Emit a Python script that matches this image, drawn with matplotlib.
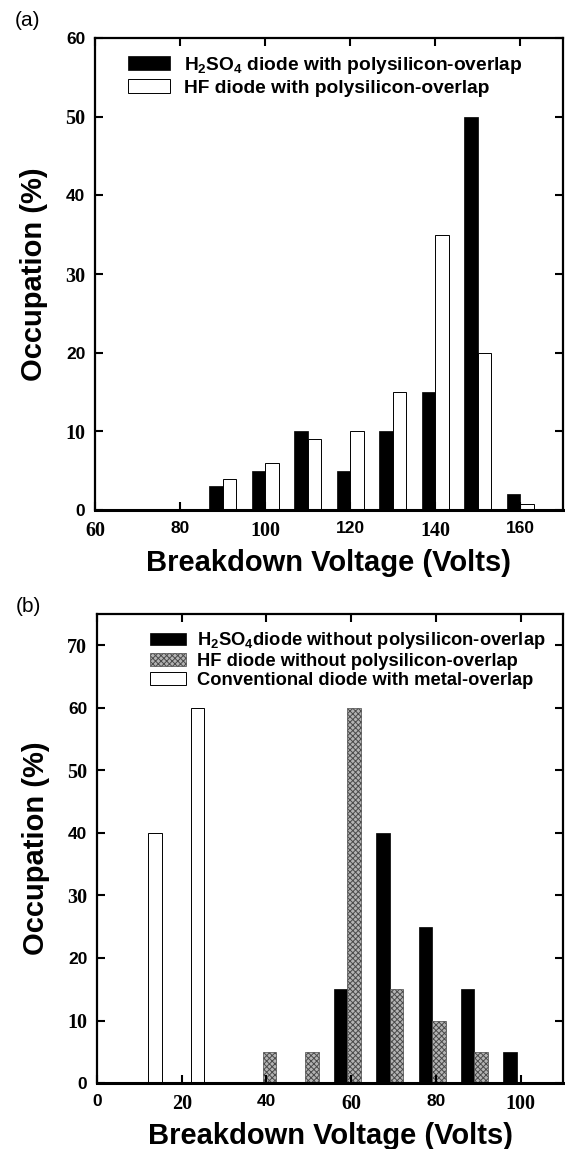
import numpy as np
import matplotlib
matplotlib.use("Agg")
import matplotlib.pyplot as plt

plt.rcParams['font.family'] = ['Liberation Sans', 'DejaVu Sans']
plt.rcParams['mathtext.fontset'] = 'custom'
plt.rcParams['mathtext.rm'] = 'Liberation Sans:bold'
plt.rcParams['mathtext.it'] = 'Liberation Sans:bold'
plt.rcParams['mathtext.bf'] = 'Liberation Sans:bold'
plt.rcParams['hatch.linewidth'] = 0.7

# panel (a): with polysilicon-overlap
volts_a = [90, 100, 110, 120, 130, 140, 150, 160]
h2so4_a = [3, 5, 10, 5, 10, 15, 50, 2]
hf_a = [4, 6, 9, 10, 15, 35, 20, 0.8]

# panel (b): without overlap / conventional
volts_b = [10, 20, 30, 40, 50, 60, 70, 80, 90, 100]
h2so4_b = [0, 0, 0, 0, 0, 15, 40, 25, 15, 5]
hf_b = [0, 0, 0, 5, 5, 60, 15, 10, 5, 0]
conv_b = [40, 60, 0, 0, 0, 0, 0, 0, 0, 0]

xticks_a = [60, 80, 100, 120, 140, 160]
yticks_a = [0, 10, 20, 30, 40, 50, 60]
xticks_b = [0, 20, 40, 60, 80, 100]
yticks_b = [0, 10, 20, 30, 40, 50, 60, 70]

W = 3.2
fig = plt.figure(figsize=(5.65, 11.49), dpi=100)
ax1 = fig.add_axes([0.1681, 0.5561, 0.8283, 0.4108])
ax2 = fig.add_axes([0.1717, 0.0574, 0.8248, 0.4082])


def style(ax, xt, yt, xlim, ylim, xserif_first):
    ax.set_xlim(*xlim)
    ax.set_ylim(*ylim)
    ax.set_xticks(xt)
    ax.set_yticks(yt)
    ax.tick_params(direction='in', top=True, right=True, length=6, width=1.5)
    ax.tick_params(axis='y', pad=7)
    ax.tick_params(axis='x', pad=8)
    for s in ax.spines.values():
        s.set_linewidth(1.6)
    ax.spines['bottom'].set_linewidth(2.2)
    fams = ['Liberation Serif', 'Liberation Sans']
    sizes = [14.5, 12.5]
    for i, t in enumerate(ax.get_xticklabels()):
        k = (i + (0 if xserif_first else 1)) % 2
        t.set_fontfamily(fams[k])
        t.set_fontweight('bold')
        t.set_fontsize(sizes[k])
    for i, t in enumerate(ax.get_yticklabels()):
        k = (i + 1) % 2
        t.set_fontfamily(fams[k])
        t.set_fontweight('bold')
        t.set_fontsize(sizes[k])
    ax.set_xlabel('Breakdown Voltage (Volts)', fontsize=21, fontweight='bold', labelpad=6)
    ax.set_ylabel('Occupation (%)', fontsize=21, fontweight='bold', labelpad=12)


va = np.array(volts_a)
ax1.bar(va - W, h2so4_a, width=W, align='edge', color='black', edgecolor='black',
        linewidth=0.5, label=r'H$_2$SO$_4$ diode with polysilicon-overlap')
ax1.bar(va, hf_a, width=W, align='edge', color='white', edgecolor='black',
        linewidth=0.7, label='HF diode with polysilicon-overlap')
style(ax1, xticks_a, yticks_a, (60, 170), (0, 60), True)
ax1.legend(loc='upper left', bbox_to_anchor=(0.07, 0.965), frameon=False,
           prop={'weight': 'bold', 'size': 13.8}, handlelength=2.2,
           handleheight=0.75, handletextpad=0.75, labelspacing=0.2,
           borderpad=0, borderaxespad=0)

vb = np.array(volts_b)
ax2.bar(vb - 4.1, h2so4_b, width=W, align='edge', color='black', edgecolor='black',
        linewidth=0.5, label=r'H$_2$SO$_4$diode without polysilicon-overlap')
ax2.bar(vb - 0.9, hf_b, width=W, align='edge', color='#b4b4b4', edgecolor='#4a4a4a',
        linewidth=0.5, hatch='xxxxxx', label='HF diode without polysilicon-overlap')
ax2.bar(vb + 2.1, conv_b, width=W, align='edge', color='white', edgecolor='black',
        linewidth=0.7, label='Conventional diode with metal-overlap')
style(ax2, xticks_b, yticks_b, (0, 110), (0, 75), False)
ax2.legend(loc='upper left', bbox_to_anchor=(0.113, 0.965), frameon=False,
           prop={'weight': 'bold', 'size': 13.2}, handlelength=2.0,
           handleheight=0.7, handletextpad=0.6, labelspacing=0.1,
           borderpad=0, borderaxespad=0)

fig.text(15 / 565, 1 - 20 / 1149, '(a)', fontsize=15, va='center', ha='left')
fig.text(16 / 565, 1 - 606 / 1149, '(b)', fontsize=15, va='center', ha='left')

fig.savefig('out.png', dpi=100)
